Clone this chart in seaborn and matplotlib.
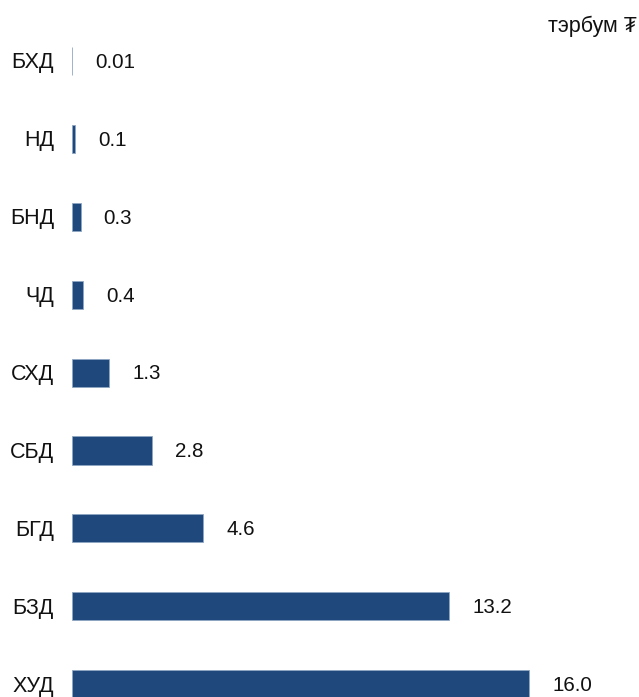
import matplotlib
matplotlib.use("Agg")
import matplotlib.pyplot as plt
import matplotlib.transforms as mtransforms
import seaborn as sns
import pandas as pd

categories = ["БХД", "НД", "БНД", "ЧД", "СХД", "СБД", "БГД", "БЗД", "ХУД"]
values = [0.01, 0.1, 0.3, 0.4, 1.3, 2.8, 4.6, 13.2, 16.0]
labels = ["0.01", "0.1", "0.3", "0.4", "1.3", "2.8", "4.6", "13.2", "16.0"]
unit = "тэрбум ₮"

sns.set_theme(style="white")
plt.rcParams["font.family"] = ["Liberation Sans", "DejaVu Sans"]

df = pd.DataFrame({"cat": categories, "val": values})

W, H = 639, 697
fig = plt.figure(figsize=(W / 100, H / 100), dpi=100)
ax = fig.add_axes([72 / W, 0, 1 - 72 / W, 1])

sns.barplot(data=df, y="cat", x="val", orient="h", color="#1F497D",
            saturation=1, width=0.36, ax=ax, order=categories,
            edgecolor="#8fa6c4", linewidth=0.6)

px_per_unit = 457 / 16.0
ax.set_xlim(0, (W - 72) / px_per_unit)
step = 77.9
ax.set_ylim((H - 61) / step, -61 / step)

for i, (v, lab) in enumerate(zip(values, labels)):
    ax.annotate(lab, xy=(v, i), xytext=(23 * 0.72, -1), textcoords="offset points",
                ha="left", va="center", fontsize=14.8, color="#111111")

ax.set_xlabel("")
ax.set_ylabel("")
ax.set_xticks([])
ax.tick_params(axis="y", length=0, pad=13, labelsize=15.5, labelcolor="#111111")
offset = mtransforms.ScaledTranslation(0, -2 / 100, fig.dpi_scale_trans)
for lbl in ax.get_yticklabels():
    lbl.set_va("center")
    lbl.set_transform(lbl.get_transform() + offset)
for s in ax.spines.values():
    s.set_visible(False)

fig.text(637 / W, 1 - 26 / H, unit, ha="right", va="center", fontsize=15.5, color="#111111")

fig.savefig("out.png", dpi=100)
